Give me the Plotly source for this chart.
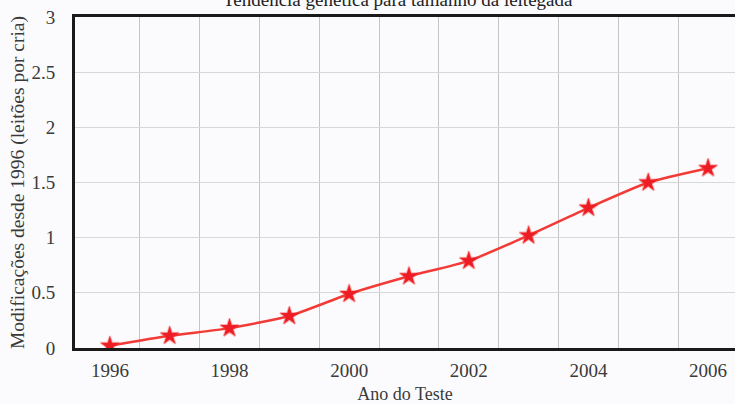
import plotly.graph_objects as go

years = [1996, 1997, 1998, 1999, 2000, 2001, 2002, 2003, 2004, 2005, 2006]
values = [0.02, 0.11, 0.18, 0.29, 0.49, 0.65, 0.79, 1.02, 1.27, 1.50, 1.63]
x_ticks = [1996, 1998, 2000, 2002, 2004, 2006]
x_grid = [1996.5, 1997.5, 1998.5, 1999.5, 2000.5, 2001.5, 2002.5, 2003.5, 2004.5, 2005.5]
y_ticks = [0, 0.5, 1, 1.5, 2, 2.5, 3]
y_ticklabels = ["0", "0.5", "1", "1.5", "2", "2.5", "3"]

serif = "Liberation Serif, Times New Roman, serif"

fig = go.Figure()
fig.add_trace(go.Scatter(
    x=years, y=values, mode="lines+markers",
    line=dict(color="#f23a36", width=2.5, shape="spline", smoothing=0.6),
    marker=dict(symbol="star", size=14, color="#ee1c25",
                line=dict(color="rgba(240,40,40,0.35)", width=2)),
    showlegend=False,
))

fig.update_layout(
    width=735, height=404,
    margin=dict(l=75, r=0, t=17, b=56),
    paper_bgcolor="#fbfbfd",
    plot_bgcolor="#fbfbfd",
    font=dict(family=serif, size=19, color="#3a3a3a"),
    xaxis=dict(
        range=[1995.417, 2006.45],
        tickvals=x_ticks, ticktext=[str(v) for v in x_ticks],
        showgrid=False, zeroline=False, automargin=False,
        showline=True, linecolor="#1a1a1a", linewidth=3, mirror=True,
        ticks="", ticklabelstandoff=3,
        tickfont=dict(size=19),
        minor=dict(tickvals=x_grid, showgrid=True, gridcolor="#c4c4c4", gridwidth=1, ticks=""),
        title=dict(text="Ano do Teste", font=dict(size=18), standoff=10),
        fixedrange=True,
    ),
    yaxis=dict(
        range=[0, 3],
        tickvals=y_ticks, ticktext=y_ticklabels,
        showgrid=True, gridcolor="#d8d8d8", gridwidth=1, zeroline=False, automargin=False,
        showline=True, linecolor="#1a1a1a", linewidth=3, mirror=False,
        ticks="", ticklabelstandoff=13,
        tickfont=dict(size=19),
        title=dict(text="Modificações desde 1996 (leitões por cria)", font=dict(size=19.5), standoff=2),
        fixedrange=True,
    ),
)

fig.add_annotation(
    text="Tendência genética para tamanho da leitegada",
    xref="paper", yref="paper", x=0.49, y=1.052,
    xanchor="center", yanchor="middle", showarrow=False,
    font=dict(family=serif, size=19, color="#222222"),
)

fig.write_html(
    "out.html",
    config={"displayModeBar": False},
    post_script="document.body.style.margin='0';document.body.style.background='#fbfbfd';",
)
